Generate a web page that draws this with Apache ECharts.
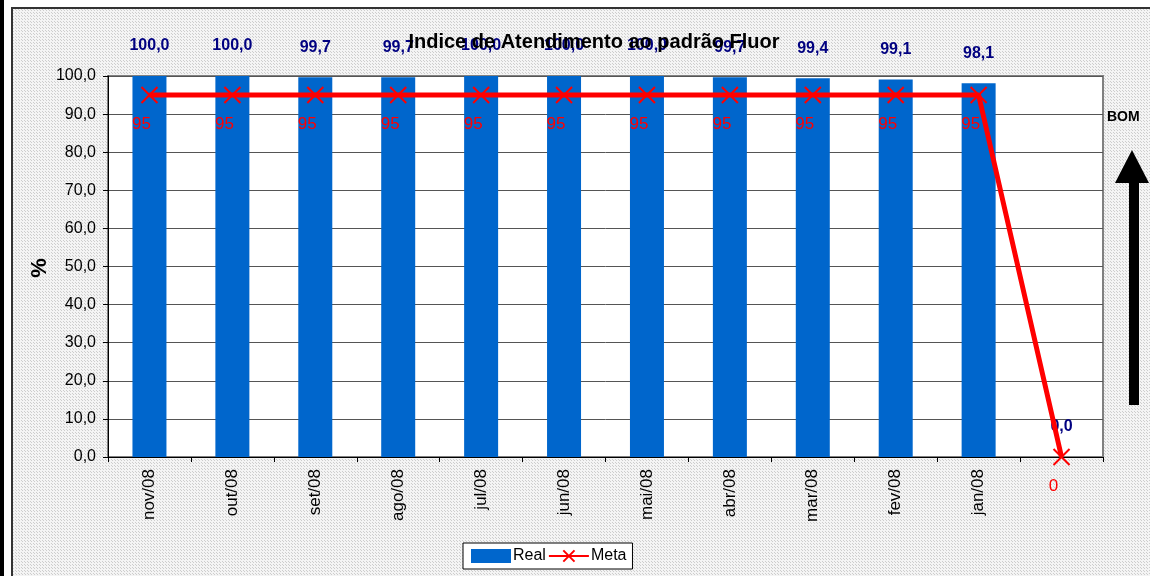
<!DOCTYPE html>
<html>
<head>
<meta charset="utf-8">
<script src="https://cdn.jsdelivr.net/npm/echarts@6/dist/echarts.min.js"></script>
<style>
  html, body { margin: 0; padding: 0; background: #fff; }
  #chart { width: 1150px; height: 576px; }
</style>
</head>
<body>
<div id="chart"></div>
<script>
var categories = ['nov/08', 'out/08', 'set/08', 'ago/08', 'jul/08', 'jun/08', 'mai/08', 'abr/08', 'mar/08', 'fev/08', 'jan/08', ''];
var realValues = [100.0, 100.0, 99.7, 99.7, 100.0, 100.0, 100.0, 99.7, 99.4, 99.1, 98.1, 0.0];
var metaValues = [95, 95, 95, 95, 95, 95, 95, 95, 95, 95, 95, 0];

// dotted background like the excel chart area
var pat = document.createElement('canvas');
pat.width = 3; pat.height = 3;
var pctx = pat.getContext('2d');
pctx.fillStyle = '#f4f4f4';
pctx.fillRect(0, 0, 3, 3);
pctx.fillStyle = '#cdcdcd';
pctx.fillRect(0, 0, 1, 1);
pctx.fillRect(1, 1, 1, 1);

var dom = document.getElementById('chart');
var myChart = echarts.init(dom);

var option = {
    animation: false,
    backgroundColor: '#fff',
    textStyle: { fontFamily: 'Liberation Sans, Arial, sans-serif' },
    title: {
        text: 'Indice de Atendimento ao padrão Fluor',
        left: 589,
        top: 27,
        textAlign: 'center',
        textStyle: { fontSize: 20, fontWeight: 'bold', color: '#000' }
    },
    graphic: [
        { type: 'rect', z: -10, shape: { x: 0, y: 0, width: 4, height: 576 }, style: { fill: '#000' } },
        { type: 'rect', z: -10, shape: { x: 12, y: 8, width: 1140, height: 570 },
          style: { fill: { image: pat, repeat: 'repeat' }, stroke: '#333', lineWidth: 2 } },
        { type: 'text', z: 10, x: 40, y: 268, rotation: Math.PI / 2,
          style: { text: '%', fontSize: 22, fontWeight: 'bold', fill: '#000', align: 'center', verticalAlign: 'middle',
                   fontFamily: 'Liberation Sans, Arial, sans-serif' } },
        { type: 'text', z: 10, left: 1107, top: 110,
          style: { text: 'BOM', fontSize: 14, fontWeight: 'bold', fill: '#000', fontFamily: 'Liberation Sans, Arial, sans-serif' } },
        { type: 'polygon', z: 10,
          shape: { points: [[1115, 183], [1132, 150], [1149, 183]] }, style: { fill: '#000' } },
        { type: 'rect', z: 10, shape: { x: 1129, y: 180, width: 10, height: 225 }, style: { fill: '#000' } }
    ],
    grid: {
        left: 108,
        right: 47,
        top: 76,
        bottom: 119,
        show: true,
        backgroundColor: '#fff',
        borderColor: '#808080',
        borderWidth: 2
    },
    legend: {
        left: 463,
        top: 543,
        padding: [5, 6, 5, 8],
        backgroundColor: '#fff',
        borderColor: '#000',
        borderWidth: 1,
        borderRadius: 0,
        itemGap: 2,
        itemWidth: 40,
        itemHeight: 14,
        textStyle: { fontSize: 16, color: '#000', padding: [0, 0, 0, -3] },
        data: [
            { name: 'Real', icon: 'rect' },
            { name: 'Meta' }
        ]
    },
    xAxis: {
        type: 'category',
        data: categories,
        boundaryGap: true,
        axisLine: { lineStyle: { color: '#000', width: 1 } },
        axisTick: { show: true, length: 5, lineStyle: { color: '#000' } },
        axisLabel: { rotate: 90, fontSize: 17, color: '#000', margin: 12, interval: 0 }
    },
    yAxis: {
        type: 'value',
        min: 0,
        max: 100,
        interval: 10,
        axisLine: { show: true, lineStyle: { color: '#000', width: 1 } },
        axisTick: { show: true, length: 5, lineStyle: { color: '#000' } },
        axisLabel: {
            fontSize: 16,
            color: '#000',
            margin: 12,
            formatter: function (v) { return v.toFixed(1).replace('.', ','); }
        },
        splitLine: { lineStyle: { color: '#555', width: 1 } }
    },
    series: [
        {
            name: 'Real',
            type: 'bar',
            data: realValues,
            barWidth: 34,
            itemStyle: { color: '#0066CC' },
            label: {
                show: true,
                position: 'top',
                distance: 22,
                fontSize: 16,
                fontWeight: 'bold',
                color: '#000080',
                formatter: function (p) { return p.value.toFixed(1).replace('.', ','); }
            }
        },
        {
            name: 'Meta',
            type: 'line',
            data: metaValues,
            symbol: 'path://M0,0 L10,10 M10,0 L0,10',
            symbolSize: 16,
            itemStyle: { color: '#FF0000', borderColor: '#FF0000', borderWidth: 2 },
            lineStyle: { color: '#FF0000', width: 5 },
            label: {
                show: true,
                position: 'bottom',
                distance: 12,
                offset: [-8, 0],
                fontSize: 17,
                color: '#FF0000'
            },
            z: 5
        }
    ]
};

if (option && typeof option === "object") {
    myChart.setOption(option, true);
}
</script>
</body>
</html>
